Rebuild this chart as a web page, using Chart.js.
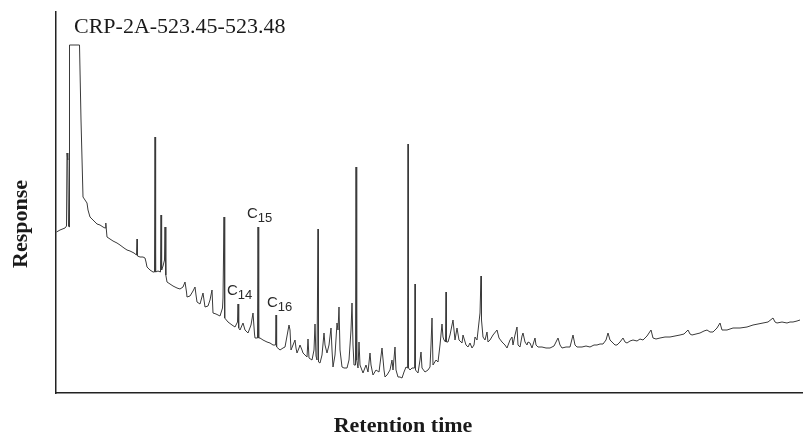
<!DOCTYPE html>
<html lang="en">
<head>
    <meta charset="UTF-8">
    <title>CRP-2A-523.45-523.48</title>
    <script src="https://cdn.jsdelivr.net/npm/chart.js"></script>
    <style>
        body {
            margin: 0;
            background-color: #ffffff;
        }
        canvas {
            display: block;
        }
    </style>
</head>
<body>
    <canvas id="gcChart" width="806" height="434"></canvas>

    <script>
        // trace (retention in arbitrary units, response in arbitrary units)
        const retention = [
            0.5, 4, 9, 10.5, 11, 11.8, 12.5, 13.2, 13.5, 23.5, 25, 27, 29, 31, 32, 34, 36, 39, 41, 44,
            47, 49, 49.8, 50.3, 51, 54, 57, 61, 64, 68, 71, 74, 78, 80.5, 81, 81.5, 84, 87, 89, 90,
            91, 94, 97, 98.5, 99, 99.6, 102, 104.5, 105, 105.6, 107, 108.5, 109, 109.8, 111, 114, 117, 121, 124, 127,
            129, 130.5, 131, 134, 137, 139, 140, 141, 144, 147, 149, 152, 154, 156, 157, 160, 164, 166.5, 167, 168,
            168.7, 172, 176, 179, 181.5, 182, 182.7, 184, 187, 189, 192, 195, 197, 198.5, 199, 201.5, 202, 202.7, 204, 207,
            211, 214, 217, 219.6, 220, 220.6, 224, 227, 229, 231, 233, 234, 235, 237, 239, 240, 241, 243, 244, 246,
            247, 249, 251, 252, 253, 256, 258, 259, 260, 261, 261.7, 262, 262.5, 264, 266, 268, 269, 271, 273, 275,
            276, 277, 279, 281, 282, 283, 284, 286, 288, 291, 293, 295, 296, 297, 298, 299.5, 300, 300.7, 302, 303,
            304, 307, 310, 312, 314, 315, 317, 320, 323, 326, 328, 329, 331, 334, 336, 337, 339, 340, 342, 344,
            346, 348, 350, 351.6, 352, 352.5, 354, 356, 358.6, 359, 359.5, 362, 364, 365, 366, 369, 372, 374, 375, 376,
            377, 380, 382, 384, 386, 387, 388, 389.5, 390, 390.5, 392, 394, 397, 399, 401, 403, 406, 407, 410, 412,
            414, 416, 418, 419, 421, 424, 424.8, 425, 425.5, 427, 429, 431, 432, 434, 437, 441, 443, 446, 449, 451,
            454, 456, 457, 459, 461, 462, 464, 466, 467, 469, 471, 472, 474, 476, 479, 480, 482, 486, 490, 494,
            498, 502, 504, 506, 510, 514, 517, 519, 521, 526, 530, 534, 538, 541, 544, 547, 550, 552, 554, 556,
            559, 561, 564, 567, 569, 571, 574, 577, 581, 584, 587, 591, 595, 597, 600, 604, 609, 614, 619, 624,
            628, 632, 634, 636, 640, 644, 648, 651, 654, 657, 661, 664, 666, 671, 674, 677, 684, 691, 694, 697,
            702, 707, 712, 717, 719, 721, 726, 731, 734, 737, 741, 744
        ];
        const response = [
            161, 163, 165, 167, 240, 233, 167, 166, 348, 348, 273, 196, 193, 190, 183, 176, 174, 171, 169, 168,
            166, 165, 170, 164, 156, 154, 152, 150, 148, 145, 143, 142, 140, 138, 154, 137, 136, 136, 135, 131,
            126, 123, 121, 121, 256, 121, 122, 121, 178, 123, 127, 133, 166, 118, 111, 109, 107, 105, 104, 106,
            111, 101, 96, 97, 102, 106, 98, 91, 89, 100, 86, 87, 93, 103, 80, 79, 77, 85, 95, 176,
            75, 71, 68, 66, 71, 89, 65, 63, 70, 63, 60, 68, 80, 59, 55, 55, 166, 55, 55, 53,
            51, 50, 48, 48, 78, 46, 43, 45, 46, 57, 68, 63, 43, 48, 53, 45, 40, 45, 48, 43,
            40, 38, 36, 54, 35, 33, 43, 69, 37, 33, 33, 164, 31, 30, 38, 60, 48, 40, 48, 65,
            43, 26, 38, 70, 63, 86, 43, 26, 25, 25, 33, 63, 90, 48, 28, 28, 226, 33, 25, 51,
            28, 20, 28, 21, 40, 28, 18, 23, 21, 45, 23, 16, 18, 23, 33, 23, 46, 23, 16, 16,
            15, 21, 26, 25, 249, 25, 23, 25, 25, 109, 23, 20, 33, 41, 25, 21, 23, 26, 48, 75,
            28, 33, 31, 48, 69, 56, 53, 51, 101, 51, 51, 58, 73, 53, 65, 53, 50, 58, 48, 46,
            50, 45, 48, 56, 53, 80, 80, 117, 73, 56, 53, 61, 51, 53, 58, 63, 55, 51, 48, 45,
            53, 56, 48, 58, 66, 48, 46, 57, 60, 51, 48, 51, 50, 45, 55, 48, 46, 46, 45, 45,
            47, 55, 48, 45, 46, 46, 58, 48, 46, 46, 47, 46, 48, 48, 49, 49, 53, 60, 53, 51,
            48, 48, 51, 55, 51, 50, 52, 53, 52, 54, 53, 57, 63, 55, 54, 55, 56, 56, 57, 58,
            59, 63, 59, 58, 59, 60, 62, 63, 61, 61, 65, 70, 63, 63, 64, 65, 65, 66, 67, 68,
            69, 70, 71, 75, 71, 70, 71, 70, 71, 71, 72, 73
        ];

        // labelled n-alkane peaks
        const peakNames = ['14', '15', '16'];
        const peakLabelRetention = [171, 191, 211];
        const peakLabelResponse = [98, 175, 86];

        const chartTitle = 'CRP-2A-523.45-523.48';
        const xTitle = 'Retention time';
        const yTitle = 'Response';

        const points = retention.map((r, i) => ({ x: r, y: response[i] }));

        // titles and peak labels drawn on top of the plot
        const textPlugin = {
            id: 'chromText',
            afterDraw(chart) {
                const ctx = chart.ctx;
                const xs = chart.scales.x;
                const ys = chart.scales.y;
                ctx.save();
                ctx.fillStyle = '#1a1a1a';

                ctx.font = '22px "Liberation Serif", "Times New Roman", serif';
                ctx.textAlign = 'left';
                ctx.textBaseline = 'alphabetic';
                ctx.fillText(chartTitle, 74, 33);

                ctx.font = 'bold 22px "Liberation Serif", "Times New Roman", serif';
                ctx.textAlign = 'center';
                ctx.fillText(xTitle, 403, 432);

                ctx.save();
                ctx.translate(27, 224);
                ctx.rotate(-Math.PI / 2);
                ctx.textBaseline = 'alphabetic';
                ctx.fillText(yTitle, 0, 0);
                ctx.restore();

                ctx.fillStyle = '#2a2a2a';
                ctx.textAlign = 'left';
                peakNames.forEach((n, i) => {
                    const px = xs.getPixelForValue(peakLabelRetention[i]);
                    const py = ys.getPixelForValue(peakLabelResponse[i]);
                    ctx.font = '15px "Liberation Sans", Arial, sans-serif';
                    ctx.fillText('C', px, py);
                    const w = ctx.measureText('C').width;
                    ctx.font = '13px "Liberation Sans", Arial, sans-serif';
                    ctx.fillText(n, px + w, py + 4);
                });
                ctx.restore();
            }
        };

        const ctx = document.getElementById('gcChart').getContext('2d');
        new Chart(ctx, {
            type: 'line',
            data: {
                datasets: [{
                    data: points,
                    borderColor: '#3a3a3a',
                    borderWidth: 1,
                    pointRadius: 0,
                    tension: 0,
                    fill: false
                }]
            },
            options: {
                responsive: false,
                animation: false,
                layout: {
                    padding: { left: 56, right: 4, top: 12, bottom: 41 }
                },
                plugins: {
                    legend: { display: false },
                    tooltip: { enabled: false }
                },
                scales: {
                    x: {
                        type: 'linear',
                        min: 0,
                        max: 746,
                        ticks: { display: false },
                        grid: { display: false, drawTicks: false },
                        border: { display: true, color: '#222', width: 1.5 }
                    },
                    y: {
                        min: 0,
                        max: 381,
                        ticks: { display: false },
                        grid: { display: false, drawTicks: false },
                        border: { display: true, color: '#222', width: 1.5 }
                    }
                }
            },
            plugins: [textPlugin]
        });
    </script>
</body>
</html>
